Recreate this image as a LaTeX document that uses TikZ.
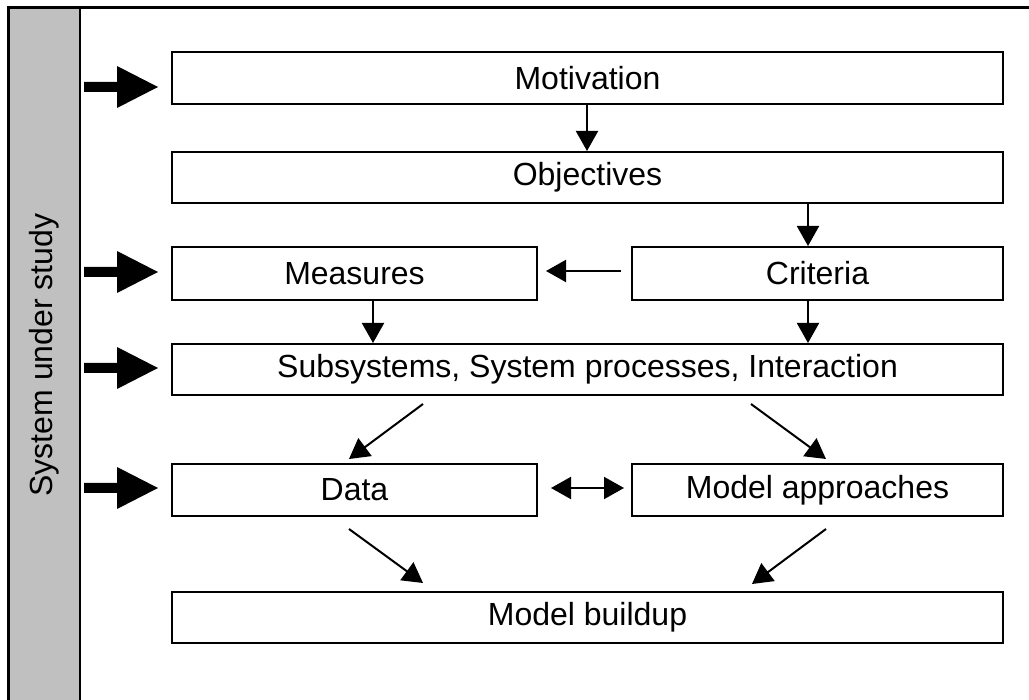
\documentclass[tikz,border=0pt]{standalone}
\usepackage{fontspec}
\setmainfont{Liberation Sans}
\usetikzlibrary{arrows.meta,calc}
\definecolor{bargray}{HTML}{C0C0C0}
\tikzset{
  box/.style={draw=black,line width=2pt,fill=white,inner sep=0pt,minimum height=52pt,font=\fontsize{32}{38}\selectfont},
  arr/.style={line width=2pt,-{Triangle[length=20pt,width=22pt]}},
  darr/.style={line width=2pt,{Triangle[length=20pt,width=22pt]}-{Triangle[length=20pt,width=22pt]}},
  bigarrow/.style={fill=black,draw=none}
}
\begin{document}
\begin{tikzpicture}[x=1pt,y=-1pt]
\useasboundingbox (0,0) rectangle (1029,700);
\fill[white] (0,0) rectangle (1029,700);
% frame and gray bar
\fill[bargray] (8,8) rectangle (80,702);
\draw[line width=3pt] (1031,8) -- (8,8) -- (8,702);
\draw[line width=2pt] (80,8) -- (80,702);
\node[rotate=90,font=\fontsize{32}{38}\selectfont] (sys) at (44,355) {System under study};
% boxes
\node[box,minimum width=831pt] (mot) at (587.5,78) {Motivation};
\node[box,minimum width=831pt,minimum height=51pt] (obj) at (587.5,177.5) {Objectives};
\node[box,minimum width=365pt,minimum height=53pt] (meas) at (354.5,273.5) {Measures};
\node[box,minimum width=371pt,minimum height=53pt] (crit) at (817.5,273.5) {Criteria};
\node[box,minimum width=831pt,minimum height=51pt] (sub) at (587.5,369.5) {Subsystems, System processes, Interaction};
\node[box,minimum width=365pt] (data) at (354.5,490) {Data};
\node[box,minimum width=371pt] (mapp) at (817.5,490) {Model approaches};
\node[box,minimum width=831pt,minimum height=51pt] (build) at (587.5,617.5) {Model buildup};
% big input arrows
\foreach \yy/\nm in {87/mot,272/meas,368/sub,488/data}{
  \fill[bigarrow] (84,\yy-5) -- (117,\yy-5) -- (117,\yy-21) -- (158,\yy) -- (117,\yy+21) -- (117,\yy+5) -- (84,\yy+5) -- cycle;
}
% connectors
\draw[arr] (mot.south -| 587,0) -- (obj.north -| 587,0);
\draw[arr] (obj.south -| 808,0) -- (crit.north -| 808,0);
\draw[arr] ($(crit.west |- 0,271)+(-10,0)$) -- ($(meas.east |- 0,271)+(8,0)$);
\draw[arr] (meas.south -| 373,0) -- (sub.north -| 373,0);
\draw[arr] (crit.south -| 808,0) -- (sub.north -| 808,0);
\draw[arr] ($(sub.south -| 423,0)+(0,8)$) -- ($(data.north -| 349,0)+(0,-4)$);
\draw[arr] ($(sub.south -| 751,0)+(0,8)$) -- ($(mapp.north -| 826,0)+(0,-4)$);
\draw[darr] ($(data.east |- 0,488)+(13,0)$) -- ($(mapp.west |- 0,488)+(-7,0)$);
\draw[arr] ($(data.south -| 349,0)+(0,12)$) -- ($(build.north -| 423,0)+(0,-8)$);
\draw[arr] ($(mapp.south -| 826,0)+(0,12)$) -- ($(build.north -| 752,0)+(0,-7)$);
\end{tikzpicture}
\end{document}
